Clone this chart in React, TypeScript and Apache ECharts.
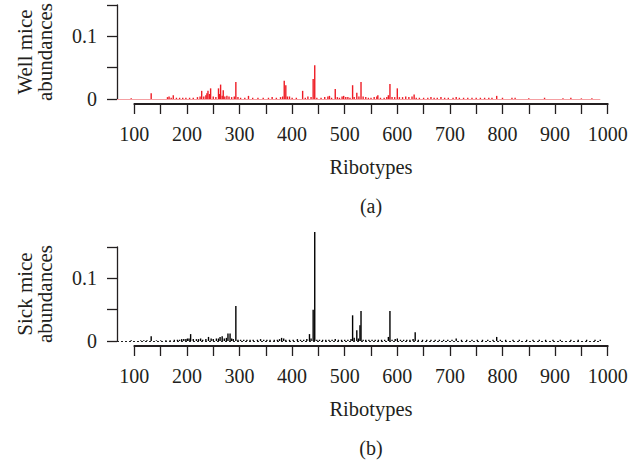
import { useEffect, useRef } from 'react';
import * as echarts from 'echarts';

// [ribotype, abundance] for healthy (well) mice — panel (a)
const wellAbundances: [number, number][] = [
  [94, 0.001], [132, 0.009], [163, 0.003], [166, 0.004], [170, 0.002], [174, 0.006], [180, 0.002],
  [186, 0.002], [192, 0.002], [198, 0.002], [205, 0.002], [212, 0.002], [220, 0.003], [225, 0.004],
  [228, 0.013], [232, 0.004], [236, 0.006], [238, 0.009], [240, 0.013], [243, 0.008], [245, 0.017],
  [250, 0.004], [255, 0.003], [260, 0.017], [262, 0.008], [264, 0.023], [267, 0.005], [269, 0.014],
  [272, 0.004], [276, 0.005], [280, 0.004], [285, 0.003], [290, 0.004], [293, 0.027], [297, 0.003],
  [302, 0.002], [310, 0.002], [317, 0.005], [325, 0.002], [335, 0.002], [345, 0.002], [355, 0.002],
  [362, 0.003], [370, 0.002], [378, 0.003], [382, 0.004], [385, 0.029], [388, 0.022], [391, 0.004],
  [395, 0.004], [400, 0.002], [408, 0.002], [420, 0.013], [425, 0.002], [430, 0.004], [436, 0.003],
  [440, 0.032], [443, 0.054], [447, 0.002], [455, 0.002], [462, 0.003], [468, 0.004], [471, 0.005],
  [475, 0.002], [482, 0.016], [486, 0.003], [490, 0.002], [495, 0.004], [498, 0.005], [502, 0.003],
  [506, 0.003], [510, 0.002], [515, 0.022], [518, 0.003], [523, 0.01], [527, 0.004], [531, 0.027],
  [535, 0.004], [540, 0.003], [545, 0.002], [550, 0.002], [556, 0.003], [561, 0.004], [563, 0.006],
  [568, 0.002], [575, 0.002], [580, 0.003], [583, 0.006], [586, 0.024], [590, 0.003], [595, 0.003],
  [600, 0.017], [604, 0.003], [610, 0.003], [616, 0.004], [622, 0.003], [628, 0.004], [632, 0.007],
  [636, 0.002], [642, 0.002], [650, 0.002], [658, 0.002], [664, 0.003], [670, 0.002], [676, 0.002],
  [683, 0.003], [690, 0.002], [697, 0.002], [706, 0.002], [712, 0.003], [718, 0.002], [726, 0.002],
  [734, 0.002], [742, 0.002], [750, 0.002], [758, 0.002], [766, 0.002], [774, 0.002], [780, 0.002],
  [789, 0.005], [800, 0.002], [818, 0.002], [824, 0.002], [850, 0.001], [880, 0.002], [915, 0.001],
  [930, 0.002], [950, 0.001], [970, 0.001],
];

// [ribotype, abundance] for sick mice — panel (b)
const sickAbundances: [number, number][] = [
  [94, 0.001], [112, 0.001], [118, 0.001], [124, 0.001], [132, 0.0076], [142, 0.001], [150, 0.001],
  [160, 0.001], [168, 0.001], [176, 0.002], [182, 0.002], [186, 0.002], [190, 0.003], [194, 0.003],
  [198, 0.003], [201, 0.004], [204, 0.004], [207, 0.011], [212, 0.003], [218, 0.003], [222, 0.003],
  [226, 0.004], [230, 0.002], [236, 0.003], [241, 0.0065], [246, 0.004], [250, 0.003], [256, 0.004],
  [260, 0.004], [263, 0.0065], [267, 0.0076], [271, 0.004], [275, 0.005], [278, 0.012], [282, 0.012],
  [285, 0.004], [288, 0.003], [293, 0.056], [297, 0.002], [302, 0.002], [308, 0.002], [314, 0.002],
  [320, 0.002], [326, 0.002], [334, 0.002], [340, 0.003], [346, 0.002], [352, 0.002], [358, 0.002],
  [366, 0.002], [372, 0.002], [376, 0.003], [380, 0.005], [384, 0.004], [388, 0.002], [395, 0.002],
  [402, 0.002], [410, 0.003], [416, 0.002], [422, 0.002], [428, 0.003], [433, 0.011], [436, 0.004],
  [440, 0.05], [443, 0.174], [447, 0.002], [452, 0.002], [458, 0.002], [464, 0.002], [470, 0.002],
  [476, 0.002], [482, 0.003], [488, 0.002], [494, 0.002], [500, 0.002], [506, 0.002], [512, 0.003],
  [515, 0.041], [518, 0.005], [523, 0.017], [526, 0.004], [529, 0.025], [531, 0.048], [535, 0.002],
  [540, 0.002], [546, 0.002], [552, 0.002], [558, 0.002], [564, 0.002], [570, 0.002], [576, 0.002],
  [583, 0.0065], [586, 0.048], [590, 0.002], [596, 0.003], [600, 0.004], [606, 0.002], [612, 0.002],
  [618, 0.002], [624, 0.002], [630, 0.003], [634, 0.014], [640, 0.002], [648, 0.002], [656, 0.002],
  [664, 0.002], [672, 0.002], [680, 0.002], [688, 0.002], [696, 0.002], [704, 0.002], [712, 0.004],
  [722, 0.002], [732, 0.002], [742, 0.002], [752, 0.002], [762, 0.002], [772, 0.002], [782, 0.002],
  [789, 0.0065], [796, 0.002], [806, 0.002], [820, 0.002], [832, 0.002], [846, 0.002], [858, 0.002],
  [870, 0.002], [882, 0.002], [896, 0.002], [910, 0.002], [930, 0.002], [944, 0.002], [960, 0.002],
  [976, 0.002], [986, 0.002],
];

// baseline of near-zero abundances spanning the observed ribotypes
const baselineRange = [67, 986];
// plotted ribotype range and labelled axis range
const plotRange = [67, 1000];
const axisRange = [100, 1000];
const xLabelStep = 100;
const xTickStep = 50;
const yRange = [0, 0.15];
const yTickStep = 0.05;
const yLabelled = [0, 0.1];

const panelNames = ['Well mice\nabundances', 'Sick mice\nabundances'];
const panelTags = ['(a)', '(b)'];
const xName = 'Ribotypes';

const FONT = 'Liberation Serif';
const TEXT = '#231f20';

export default function App() {
  const ref = useRef<HTMLDivElement>(null);

  useEffect(() => {
    if (!ref.current) return;
    const chart = echarts.init(ref.current, undefined, { renderer: 'svg' });

    const panelTops = [5, 247];
    const axisTops = [103, 345];
    const dataLeft = 117;
    const pxPerUnit = 0.5259;
    const dataWidth = (plotRange[1] - plotRange[0]) * pxPerUnit;
    const axisLeft = dataLeft + (axisRange[0] - plotRange[0]) * pxPerUnit;
    const axisWidth = (axisRange[1] - axisRange[0]) * pxPerUnit;

    const grids: any[] = [];
    const xAxes: any[] = [];
    const yAxes: any[] = [];
    const series: any[] = [];
    const graphics: any[] = [];
    const datasets = [wellAbundances, sickAbundances];
    const colors = ['#ee1c25', '#000000'];
    const baseColors = ['#f5a0a3', '#222222'];

    for (let p = 0; p < 2; p++) {
      const gData = grids.length;
      grids.push({ left: dataLeft, top: panelTops[p], width: dataWidth, height: 94 });
      grids.push({ left: axisLeft, top: axisTops[p], width: axisWidth, height: 1 });

      xAxes.push({
        gridIndex: gData, type: 'value', min: plotRange[0], max: plotRange[1], show: false,
      });
      xAxes.push({
        gridIndex: gData + 1, type: 'value', min: axisRange[0], max: axisRange[1], interval: xTickStep,
        position: 'bottom',
        axisLine: { show: true, lineStyle: { color: TEXT, width: 2 } },
        axisTick: { show: true, length: 10, lineStyle: { color: TEXT, width: 1.3 } },
        splitLine: { show: false },
        axisLabel: {
          margin: 20, fontFamily: FONT, fontSize: 20, color: TEXT,
          formatter: (v: number) => (v % xLabelStep === 0 ? String(v) : ''),
        },
        name: xName, nameLocation: 'middle', nameGap: 52,
        nameTextStyle: { fontFamily: FONT, fontSize: 20.5, color: TEXT },
      });

      yAxes.push({
        gridIndex: gData, type: 'value', min: yRange[0], max: yRange[1], interval: yTickStep,
        axisLine: { show: true, lineStyle: { color: TEXT, width: 1.3 } },
        axisTick: { show: true, length: 10, lineStyle: { color: TEXT, width: 1.3 } },
        splitLine: { show: false },
        axisLabel: {
          margin: 20, fontFamily: FONT, fontSize: 20, color: TEXT,
          formatter: (v: number) => {
            const hit = yLabelled.find((l) => Math.abs(l - v) < 1e-9);
            return hit === undefined ? '' : String(hit);
          },
        },
        name: panelNames[p], nameLocation: 'middle', nameGap: 62, nameRotate: 90,
        nameTextStyle: { fontFamily: FONT, fontSize: 21, lineHeight: 20, color: TEXT },
      });
      yAxes.push({ gridIndex: gData + 1, type: 'value', min: 0, max: 1, show: false });

      series.push({
        type: 'bar', xAxisIndex: gData, yAxisIndex: gData, data: datasets[p],
        barWidth: 1.4, clip: false, itemStyle: { color: colors[p] },
        markLine: {
          silent: true, symbol: 'none', label: { show: false },
          lineStyle: { color: baseColors[p], width: 1, type: p === 0 ? 'solid' : [2, 2] },
          data: [[{ coord: [baselineRange[0], 0] }, { coord: [baselineRange[1], 0] }]],
        },
      });

      graphics.push({
        type: 'text', x: axisLeft + axisWidth / 2, y: axisTops[p] + 103,
        style: {
          text: panelTags[p], fontFamily: FONT, fontSize: 20, fill: TEXT,
          textAlign: 'center', textVerticalAlign: 'middle',
        },
      });
    }

    chart.setOption({
      animation: false,
      backgroundColor: '#ffffff',
      grid: grids,
      xAxis: xAxes,
      yAxis: yAxes,
      series,
      graphic: graphics,
    });

    return () => chart.dispose();
  }, []);

  return (
    <div
      ref={ref}
      style={{ position: 'fixed', left: 0, top: 0, width: 639, height: 463, background: '#fff' }}
    />
  );
}
